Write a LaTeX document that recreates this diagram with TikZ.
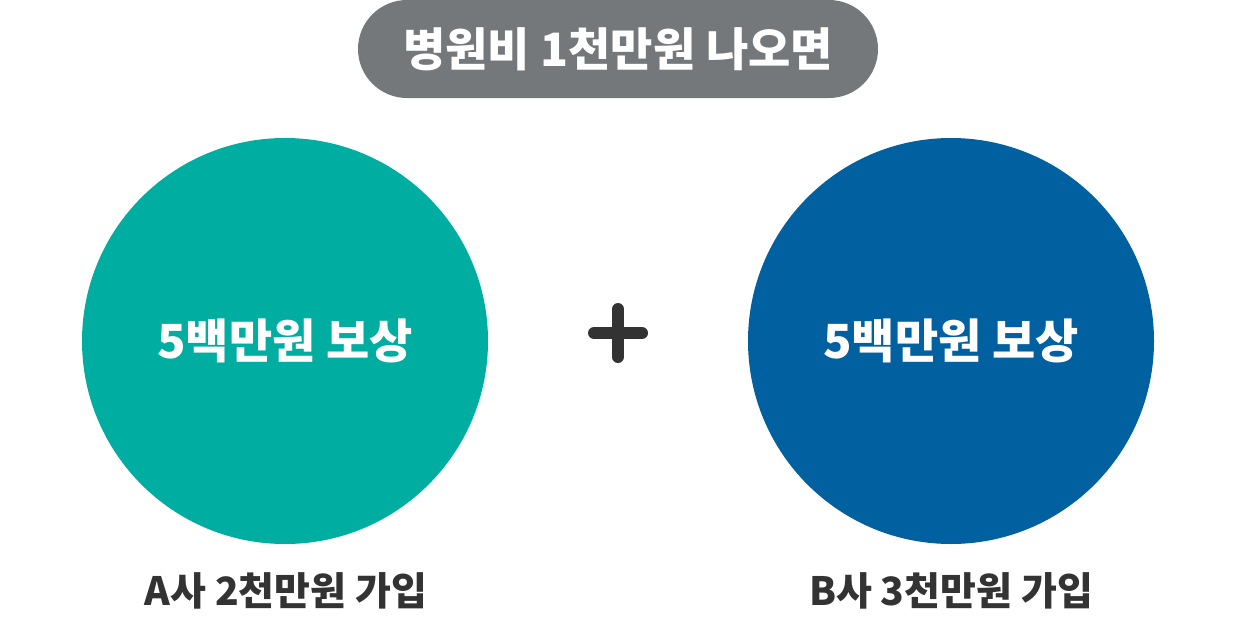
\documentclass[tikz,border=0pt]{standalone}
\usepackage{fontspec}
\setmainfont{Noto Sans CJK KR}
\definecolor{pillgray}{HTML}{75787B}
\definecolor{teal}{HTML}{00ADA1}
\definecolor{deepblue}{HTML}{0060A0}
\definecolor{ink}{HTML}{333333}
\begin{document}
\begin{tikzpicture}[x=1pt,y=-1pt,
  pill/.style={fill=pillgray,rounded corners=49pt,minimum width=520pt,minimum height=98pt,inner sep=0pt,text=white,font=\fontsize{46}{48}\selectfont\bfseries},
  bigcircle/.style={circle,minimum size=406pt,inner sep=0pt,text=white,font=\fontsize{47}{49}\selectfont\bfseries},
  caption/.style={text=ink,font=\fontsize{39}{41}\selectfont\bfseries},
  plusbar/.style={draw=ink,line width=12pt,line cap=round}]
\useasboundingbox (0,0) rectangle (1236,618);
\node[pill] (title) at (618,49) {병원비 1천만원 나오면};
\node[bigcircle,fill=teal] (a) at (285,341) {5백만원 보상};
\node[bigcircle,fill=deepblue] (b) at (951,341) {5백만원 보상};
\node[caption] (la) at (286,591) {A사 2천만원 가입};
\node[caption] (lb) at (951,591) {B사 3천만원 가입};
\coordinate (pl) at (594,333);
\coordinate (pr) at (642,333);
\coordinate (pt) at (618,309);
\coordinate (pb) at (618,357);
\draw[plusbar] (pl) -- (pr);
\draw[plusbar] (pt) -- (pb);
\end{tikzpicture}
\end{document}
